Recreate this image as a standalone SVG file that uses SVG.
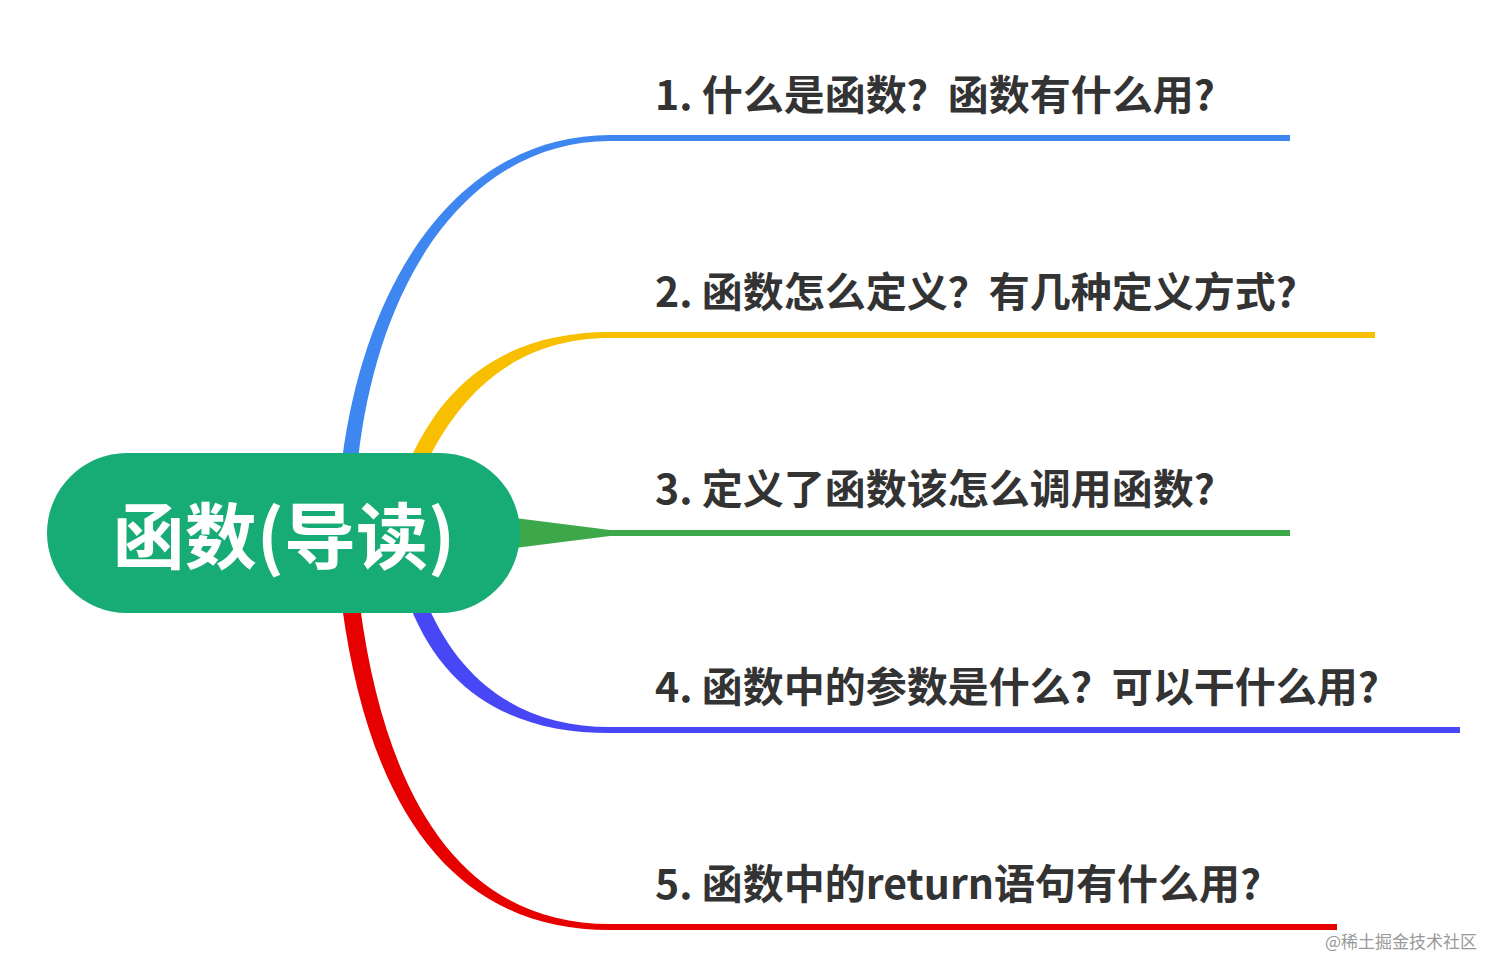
<svg xmlns="http://www.w3.org/2000/svg" width="1512" height="979" viewBox="0 0 1512 979">
<style>
.t{font-family:"Noto Sans CJK SC","Noto Sans",sans-serif;font-weight:bold;font-size:41px;fill:#333}
</style>
<rect width="1512" height="979" fill="#fff"/>
<g id="connectors">
<path fill="#3F87F0" d="M342,460 C368,262 470,135 610,135 L1290,135 L1290,141 L610,141 C478,141 380,265 358,460 Z"/>
<path fill="#F8BF00" d="M410,460 C450,370 520,332 610,332 L1375,332 L1375,338 L610,338 C528,338 468,380 428,460 Z"/>
<path fill="#3DA84A" d="M515,518 L610,530 L1290,530 L1290,536 L610,536 L515,548 Z"/>
<path fill="#4747F5" d="M428,606 C465,690 530,727 610,727 L1460,727 L1460,733 L610,733 C515,733 445,695 410,606 Z"/>
<path fill="#E60000" d="M360,606 C388,815 472,924 610,924 L1337,924 L1337,930 L610,930 C455,930 370,812 342,606 Z"/>
</g>
<g id="center">
<rect x="47" y="453" width="473" height="160" rx="80" fill="#17AB76"/>
<text x="284" y="563" text-anchor="middle" font-family="Noto Sans CJK SC, sans-serif" font-weight="bold" font-size="72" fill="#fff">函数(导读)</text>
</g>
<g id="n1"><text class="t" x="655" y="110">1. 什么是函数？函数有什么用?</text></g>
<g id="n2"><text class="t" x="655" y="307">2. 函数怎么定义？有几种定义方式?</text></g>
<g id="n3"><text class="t" x="655" y="504">3. 定义了函数该怎么调用函数?</text></g>
<g id="n4"><text class="t" x="655" y="702">4. 函数中的参数是什么？可以干什么用?</text></g>
<g id="n5"><text class="t" x="655" y="899">5. 函数中的return语句有什么用?</text></g>
<text x="1325" y="948" font-family="Noto Sans CJK SC, sans-serif" font-size="17" fill="#999">@稀土掘金技术社区</text>
</svg>
